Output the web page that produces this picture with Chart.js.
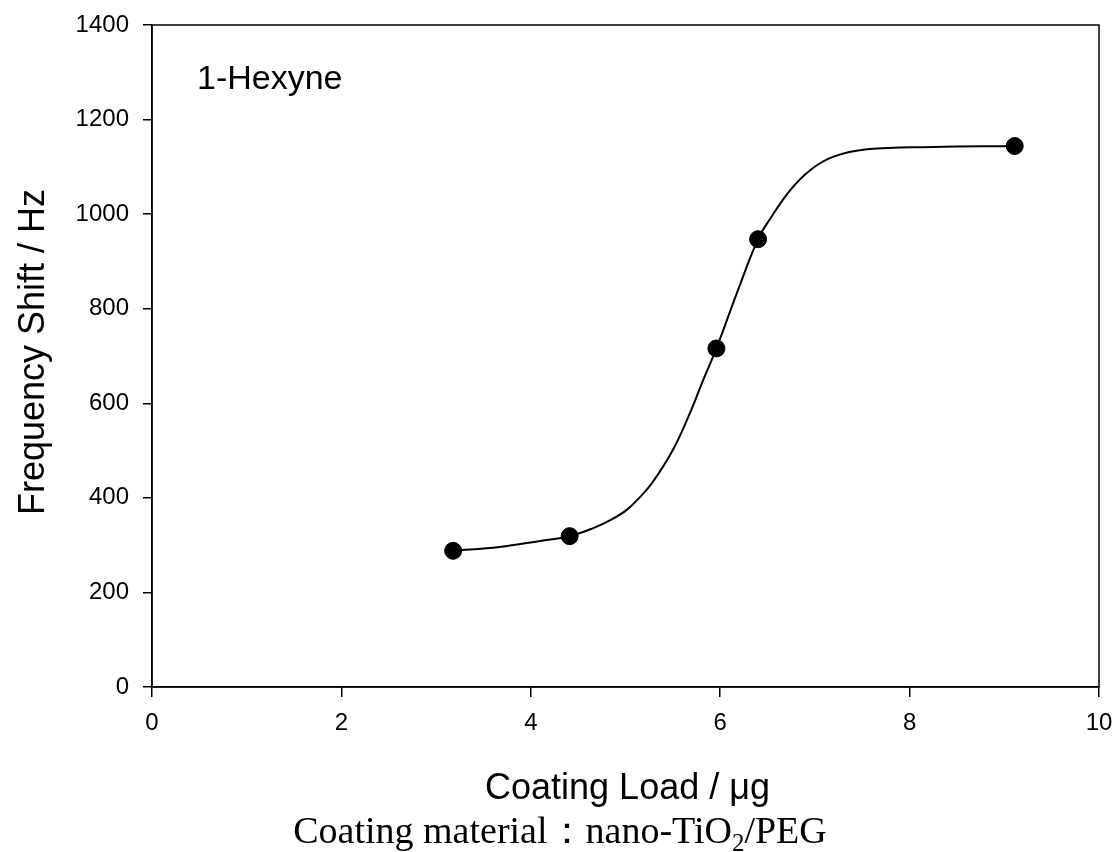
<!DOCTYPE html>
<html>
<head>
<meta charset="utf-8">
<script src="https://cdn.jsdelivr.net/npm/chart.js@4"></script>
<style>
  body { margin: 0; background: #fff; }
  #wrap { width: 1119px; height: 852px; }
</style>
</head>
<body>
<div id="wrap"><canvas id="chart" width="1119" height="852"></canvas></div>
<script>
// measured points
const coatingLoad = [3.18, 4.41, 5.96, 6.40, 9.11];
const frequencyShift = [288, 319, 716, 947, 1144];

// fitted curve
const fitLoad = [3.18, 3.67, 4.10, 4.41, 4.66, 4.85, 5.01, 5.15, 5.29, 5.50, 5.68, 5.82, 5.96, 6.18, 6.40, 6.54, 6.74, 6.95, 7.19, 7.55, 8.25, 9.11];
const fitShift = [288, 296, 309, 319, 336, 354, 374, 401, 434, 501, 579, 649, 716, 835, 947, 994, 1051, 1093, 1121, 1137, 1142, 1144];

const xRange = [0, 10];
const yRange = [0, 1400];
const xStep = 2;
const yStep = 200;

const sans = '"Liberation Sans", Arial, sans-serif';
const serif = '"Liberation Serif", "Times New Roman", serif';

const textPlugin = {
  id: 'texts',
  afterDraw(chart) {
    const { ctx, chartArea: a } = chart;
    ctx.save();
    // frame
    ctx.strokeStyle = '#000';
    ctx.lineWidth = 1.5;
    ctx.strokeRect(a.left, a.top, a.right - a.left, a.bottom - a.top);

    ctx.fillStyle = '#000';
    ctx.textBaseline = 'alphabetic';

    // label inside plot
    ctx.font = '34px ' + sans;
    ctx.textAlign = 'left';
    ctx.fillText('1-Hexyne', 197, 89);

    // x title
    ctx.textAlign = 'center';
    ctx.font = '36px ' + sans;
    ctx.fillText('Coating Load / \u03bcg', (a.left + a.right) / 2 + 2, 799);

    // y title
    ctx.save();
    ctx.translate(44, 352);
    ctx.rotate(-Math.PI / 2);
    ctx.fillText('Frequency Shift / Hz', 0, 0);
    ctx.restore();

    // subtitle with subscript
    const parts = [
      { t: 'Coating material\uff1anano-TiO', size: 38, dy: 0 },
      { t: '2', size: 25, dy: 8 },
      { t: '/PEG', size: 38, dy: 0 }
    ];
    let total = 0;
    parts.forEach(p => { ctx.font = p.size + 'px ' + serif; p.w = ctx.measureText(p.t).width; total += p.w; });
    let x = 560 - total / 2;
    ctx.textAlign = 'left';
    parts.forEach(p => {
      ctx.font = p.size + 'px ' + serif;
      ctx.fillText(p.t, x, 843 + p.dy);
      x += p.w;
    });
    ctx.restore();
  }
};

new Chart(document.getElementById('chart'), {
  type: 'scatter',
  data: {
    datasets: [
      {
        label: 'fit',
        data: fitLoad.map((v, i) => ({ x: v, y: fitShift[i] })),
        showLine: true,
        borderColor: '#000',
        borderWidth: 2,
        pointRadius: 0,
        tension: 0.4,
        order: 2
      },
      {
        label: 'data',
        data: coatingLoad.map((v, i) => ({ x: v, y: frequencyShift[i] })),
        backgroundColor: '#000',
        borderColor: '#000',
        pointRadius: 8.5,
        order: 1
      }
    ]
  },
  options: {
    responsive: false,
    animation: false,
    layout: { padding: { top: 25, right: 20, left: 0, bottom: 0 } },
    plugins: { legend: { display: false }, tooltip: { enabled: false } },
    scales: {
      x: {
        type: 'linear',
        min: xRange[0],
        max: xRange[1],
        ticks: { stepSize: xStep, color: '#000', font: { family: sans, size: 24 }, padding: 12, maxRotation: 0 },
        grid: { drawOnChartArea: false, tickLength: 10, color: '#000', lineWidth: 1.5 },
        border: { color: '#000', width: 1.5 },
        afterFit(s) { s.height = 165; s.paddingLeft = 0; s.paddingRight = 0; }
      },
      y: {
        type: 'linear',
        min: yRange[0],
        max: yRange[1],
        ticks: { stepSize: yStep, color: '#000', font: { family: sans, size: 24 }, padding: 14, callback: v => String(v) },
        grid: { drawOnChartArea: false, tickLength: 9, color: '#000', lineWidth: 1.5 },
        border: { color: '#000', width: 1.5 },
        afterFit(s) { s.width = 152; s.paddingTop = 0; s.paddingBottom = 0; }
      }
    }
  },
  plugins: [textPlugin]
});
</script>
</body>
</html>
